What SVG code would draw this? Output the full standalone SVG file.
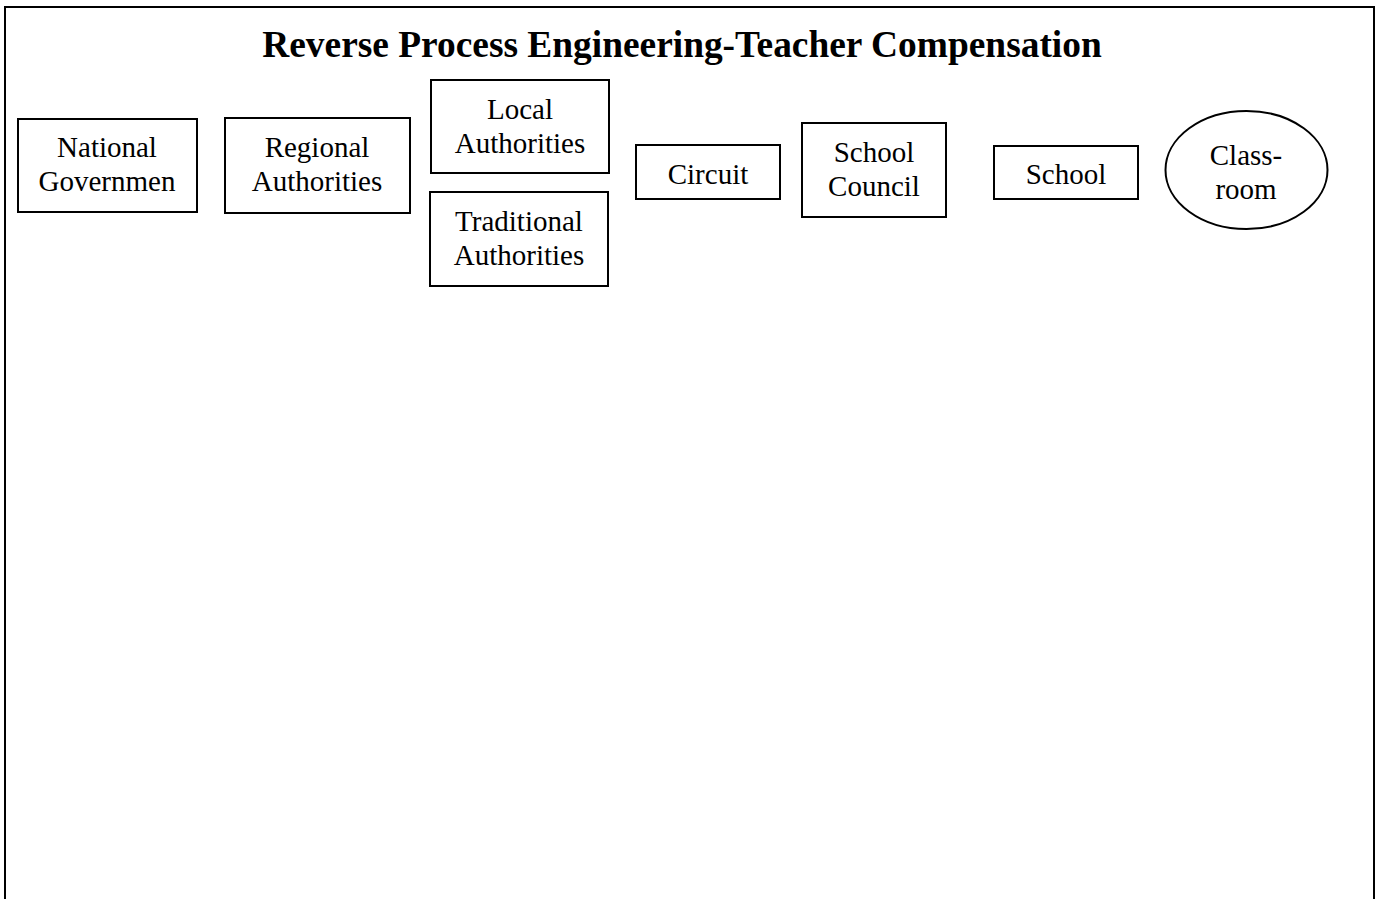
<svg xmlns="http://www.w3.org/2000/svg" width="1376" height="899" viewBox="0 0 1376 899">
  <style>
    .box { fill: #ffffff; stroke: #000000; stroke-width: 2; }
    .lbl { font-family: "Liberation Serif", "Times New Roman", serif; font-size: 29px; fill: #000000; text-anchor: middle; }
    .title { font-family: "Liberation Serif", "Times New Roman", serif; font-size: 37.4px; font-weight: bold; fill: #000000; text-anchor: middle; }
  </style>
  <rect x="0" y="0" width="1376" height="899" fill="#ffffff"/>
  <!-- page frame, open at the bottom -->
  <path d="M5,899 V7 H1374 V899" fill="none" stroke="#000000" stroke-width="2"/>
  <text class="title" x="682" y="57">Reverse Process Engineering-Teacher Compensation</text>

  <g id="connectors"></g>

  <g id="national">
    <rect class="box" x="18" y="119" width="179" height="93"/>
    <text class="lbl" x="107" y="157">National</text>
    <text class="lbl" x="107" y="191">Governmen</text>
  </g>
  <g id="regional">
    <rect class="box" x="225" y="118" width="185" height="95"/>
    <text class="lbl" x="317" y="157">Regional</text>
    <text class="lbl" x="317" y="191">Authorities</text>
  </g>
  <g id="local">
    <rect class="box" x="431" y="80" width="178" height="93"/>
    <text class="lbl" x="520" y="119">Local</text>
    <text class="lbl" x="520" y="153">Authorities</text>
  </g>
  <g id="traditional">
    <rect class="box" x="430" y="192" width="178" height="94"/>
    <text class="lbl" x="519" y="231">Traditional</text>
    <text class="lbl" x="519" y="265">Authorities</text>
  </g>
  <g id="circuit">
    <rect class="box" x="636" y="145" width="144" height="54"/>
    <text class="lbl" x="708" y="184">Circuit</text>
  </g>
  <g id="school-council">
    <rect class="box" x="802" y="123" width="144" height="94"/>
    <text class="lbl" x="874" y="162">School</text>
    <text class="lbl" x="874" y="196">Council</text>
  </g>
  <g id="school">
    <rect class="box" x="994" y="146" width="144" height="53"/>
    <text class="lbl" x="1066" y="184">School</text>
  </g>
  <g id="classroom">
    <ellipse class="box" cx="1246.5" cy="170" rx="81" ry="59"/>
    <text class="lbl" x="1246" y="165">Class-</text>
    <text class="lbl" x="1246" y="199">room</text>
  </g>
</svg>
